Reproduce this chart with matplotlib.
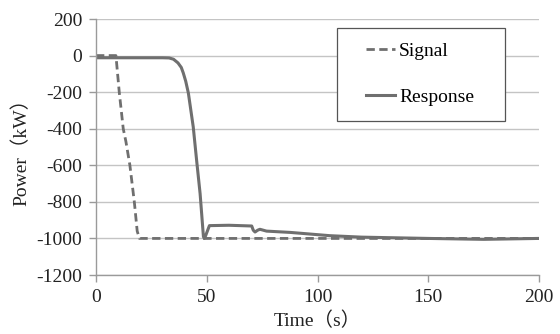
import matplotlib.pyplot as plt
from matplotlib.legend_handler import HandlerLine2D

plt.rcParams['font.family'] = ['Liberation Serif', 'Noto Sans CJK SC']
plt.rcParams['axes.unicode_minus'] = False

# signal: step command
signal_t = [0, 9, 10.5, 12.3, 13.5, 15.3, 17.3, 18.6, 19.6, 200]
signal_p = [0, 0, -200, -400, -470, -600, -800, -960, -1000, -1000]

# response
resp_t = [0, 30, 33, 35, 37, 38.5, 39.4, 40.5, 41.7, 43.9, 45.4, 47, 48.5, 48.9, 49.5, 51.2,
          60, 70.3, 71, 71.8, 73, 74, 77, 87.6, 105.6, 120, 150, 175, 200]
resp_p = [-12, -12, -13, -20, -40, -65, -95, -140, -205, -390, -570, -755, -990, -1000, -985, -930,
          -928, -932, -955, -965, -955, -950, -960, -967, -985, -993, -1000, -1005, -1000]

xticks = [0, 50, 100, 150, 200]
yticks = [-1200, -1000, -800, -600, -400, -200, 0, 200]

line_col = '#6f6f6f'
fs = 14

fig = plt.figure(figsize=(5.6, 3.34), dpi=100)
ax = fig.add_axes([96 / 560, 1 - 275 / 334, 443 / 560, 256 / 334])

ax.plot(signal_t, signal_p, color=line_col, lw=2.0, dashes=(3, 1.6), label='Signal')
ax.plot(resp_t, resp_p, color=line_col, lw=2.2, label='Response')

ax.set_xlim(0, 200)
ax.set_ylim(-1200, 200)
ax.set_xticks(xticks)
ax.set_yticks(yticks)
ax.yaxis.grid(True, color='#c4c4c4', lw=1.0)
ax.set_axisbelow(True)

for s in ['top', 'right']:
    ax.spines[s].set_visible(False)
for s in ['left', 'bottom']:
    ax.spines[s].set_color('#9a9a9a')
    ax.spines[s].set_linewidth(1.0)
ax.tick_params(direction='out', length=5, width=1.0, color='#9a9a9a',
               labelsize=fs, labelcolor='#222222', pad=5)

ax.set_xlabel('Time（s）', fontsize=fs, color='#222222', labelpad=4)
ax.set_ylabel('Power（kW）', fontsize=fs, color='#222222', labelpad=4)

hm = {l: HandlerLine2D(xpad=0.75) for l in ax.get_lines()}
leg = ax.legend(loc='upper left', bbox_to_anchor=(0.544, 0.590, 0.379, 0.375),
                mode='expand', borderaxespad=0, fontsize=fs, frameon=True,
                fancybox=False, framealpha=1, edgecolor='#555555',
                handlelength=2.25, handletextpad=0.2, labelspacing=1.47,
                borderpad=0.74, handler_map=hm)
leg.get_frame().set_linewidth(0.9)

fig.savefig('out.png', dpi=100)
